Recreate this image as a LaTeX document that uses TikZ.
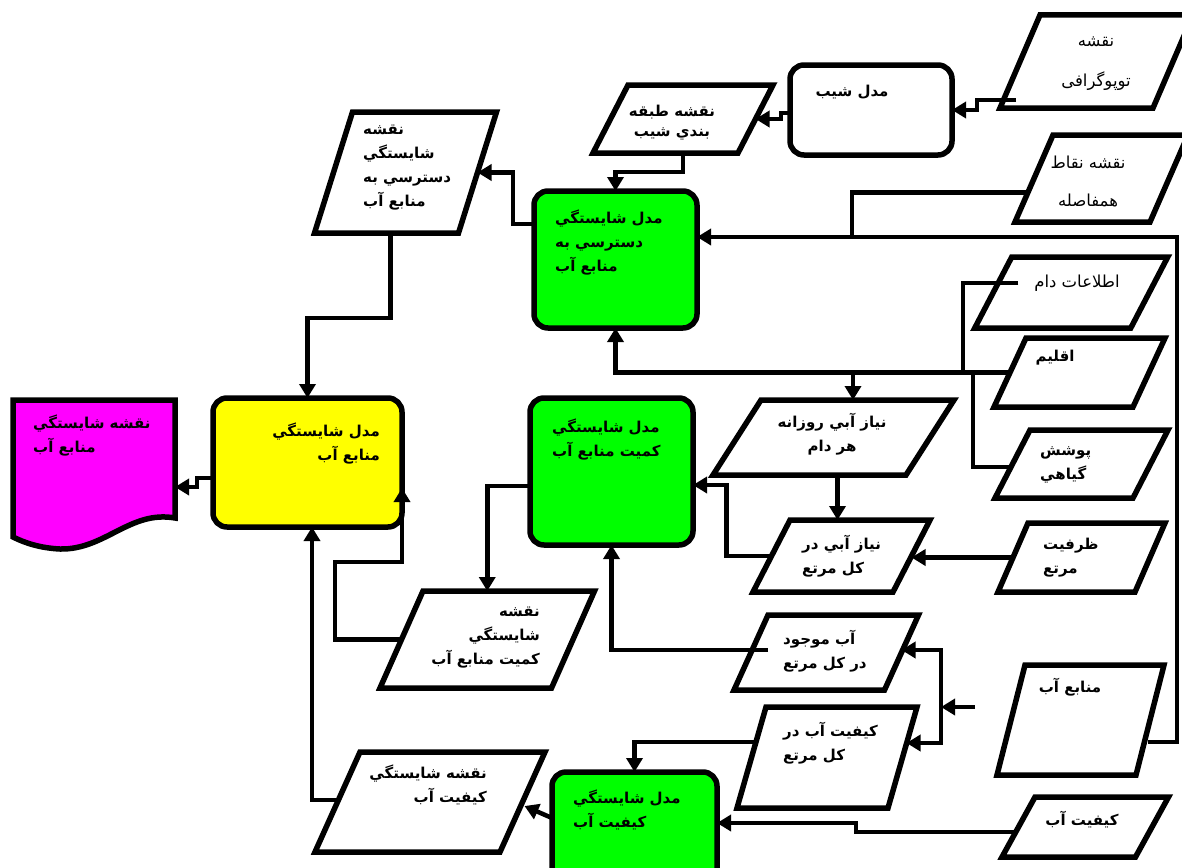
\documentclass[tikz,border=0pt]{standalone}
\usepackage{fontspec}
\usetikzlibrary{arrows.meta, calc}
\newfontfamily\fafont[Script=Arabic]{DejaVu Sans}
\TeXXeTstate=1
\newcommand{\fa}[1]{\beginR #1\endR}
\definecolor{modelgreen}{RGB}{0,255,0}
\definecolor{modelyellow}{RGB}{255,255,0}
\definecolor{mapmagenta}{RGB}{255,0,255}

\begin{document}
\begin{tikzpicture}[x=1pt, y=1pt,
  databox/.style={inner sep=0pt, outer sep=0pt,
    append after command={\pgfextra{\draw[line width=5.5pt, fill=white]
      ([xshift=#1]\tikzlastnode.north west) -- ([xshift=#1]\tikzlastnode.north east)
      -- ([xshift=-#1]\tikzlastnode.south east) -- ([xshift=-#1]\tikzlastnode.south west) -- cycle;}}},
  docbox/.style={inner sep=0pt, outer sep=0pt,
    append after command={\pgfextra{\draw[line width=5.5pt, fill=mapmagenta]
      (\tikzlastnode.north west) -- (\tikzlastnode.north east) -- (\tikzlastnode.south east)
      .. controls ($(\tikzlastnode.south east)+(-45,8)$) and ($(\tikzlastnode.south west)+(92,-32)$) .. ($(\tikzlastnode.south west)+(47,-31)$)
      .. controls ($(\tikzlastnode.south west)+(27,-30)$) and ($(\tikzlastnode.south west)+(12,-25)$) .. ($(\tikzlastnode.south west)+(0,-19)$) -- cycle;}}},
  procbox/.style={draw, line width=5.5pt, rounded corners=14pt, inner sep=0pt, outer sep=0pt},
  flow/.style={line width=4.5pt, -{Triangle[length=14pt, width=16pt]}},
  link/.style={line width=4.5pt},
  tbold/.style={font=\fafont\bfseries\fontsize{15}{24}\selectfont, inner sep=0pt},
  tplain/.style={font=\fafont\fontsize{16.5}{24}\selectfont, inner sep=0pt},
]
\useasboundingbox (0,0) rectangle (1182,-867);
\fill[white] (0,0) rectangle (1182,-867);
\clip (0,0) rectangle (1182,-867);

% inputs and maps
\node[databox=20pt, minimum width=153pt, minimum height=93pt] (topo) at (1096.5,-61.5) {};
\node[databox=17.5pt, minimum width=145pt, minimum height=68pt] (slopemap) at (683,-119) {};
\node[databox=19pt, minimum width=135pt, minimum height=87pt] (isodist) at (1101.5,-178.5) {};
\node[databox=19pt, minimum width=144pt, minimum height=121pt] (accmap) at (405.5,-172.5) {};
\node[databox=18.5pt, minimum width=156pt, minimum height=71pt] (stock) at (1071.25,-292.5) {};
\node[databox=16pt, minimum width=139pt, minimum height=69pt] (climate) at (1079.5,-372.5) {};
\node[databox=17.5pt, minimum width=138pt, minimum height=68pt] (veg) at (1081.5,-464) {};
\node[databox=24pt, minimum width=193pt, minimum height=75pt] (daily) at (833.5,-437.5) {};
\node[databox=18.5pt, minimum width=140pt, minimum height=72pt] (total) at (841.5,-556) {};
\node[databox=15pt, minimum width=137pt, minimum height=69pt] (capacity) at (1081.5,-557.5) {};
\node[databox=21.5pt, minimum width=171.5pt, minimum height=97pt] (qtymap) at (487.25,-639.5) {};
\node[databox=17pt, minimum width=150.5pt, minimum height=75pt] (avail) at (826.25,-652.5) {};
\node[databox=14.5pt, minimum width=151pt, minimum height=101pt] (qualrange) at (827,-757.5) {};
\node[databox=14pt, minimum width=139pt, minimum height=110pt] (wsrc) at (1080.5,-720) {};
\node[databox=16.5pt, minimum width=133.5pt, minimum height=60pt] (qualin) at (1085.25,-827) {};
\node[databox=22.5pt, minimum width=185pt, minimum height=100pt] (qualmap) at (430,-802) {};
\node[docbox, minimum width=162pt, minimum height=118pt] (suitmap) at (94,-459) {};

% models
\node[procbox, fill=white, minimum width=162pt, minimum height=90pt] (slopemodel) at (871,-110) {};
\node[procbox, fill=modelgreen, minimum width=163pt, minimum height=137pt] (accmodel) at (615.5,-259.5) {};
\node[procbox, fill=modelgreen, minimum width=163pt, minimum height=147pt] (qtymodel) at (611.5,-471.5) {};
\node[procbox, fill=modelgreen, minimum width=165pt, minimum height=113pt] (qualmodel) at (634.5,-828.5) {};
\node[procbox, fill=modelyellow, minimum width=189pt, minimum height=129pt] (suitmodel) at (307.5,-462.5) {};

% connectors
\draw[flow] ([shift={(-4,8)}]topo.south west) -- ++(-39,0) |- (slopemodel.east);
\draw[flow] ([yshift=-3]slopemodel.west) -- ++(-9,0) |- (slopemap.east);
\draw[flow] (slopemap.south) -- ++(0,-19) -| (accmodel.north);
\draw[flow] ([yshift=35.5]accmodel.west) -- ++(-21,0) |- (accmap.east);
\draw[flow] ([xshift=-15]accmap.south) -- ++(0,-85) -| (suitmodel.north);
\draw[flow] ([shift={(-2,-22)}]wsrc.east) -- (1177,-742) |- ([yshift=22.5]accmodel.east);
\draw[link] ([shift={(-6,-14)}]isodist.west) -| (852,-237);
\draw[link] ([shift={(25,9.5)}]stock.west) -| (963,0 |- climate.west);
\draw[link] ([yshift=-3]veg.west) -| (973,0 |- climate.west);
\draw[flow] (climate.west) -| (accmodel.south);
\coordinate (dailyin) at ($(daily.north)+(19.5,0)$);
\draw[flow] (dailyin |- climate.west) -- (dailyin);
\draw[flow] ([xshift=4]daily.south) -- ([xshift=-4]total.north);
\draw[flow] (capacity.west) -- (total.east |- capacity.west);
\draw[flow] (total.west) -- ++(-45,0) |- ([yshift=-13.5]qtymodel.east);
\draw[flow] ([yshift=-14.5]qtymodel.west) -| (qtymap.north);
\draw[flow] ([shift={(17,2.5)}]avail.west) -| (qtymodel.south);
\draw[flow] (qtymap.west) -- ++(-66.5,0) -- ++(0,77.5) -| ([yshift=39]suitmodel.south east);
\coordinate (srcstub) at ($(wsrc.west)+(-36,13)$);
\coordinate (split) at (941,-707);
\draw[flow] (srcstub) -- (split);
\draw[flow] (split) |- ([yshift=2.5]avail.east);
\draw[flow] (split) |- ([shift={(4,14.5)}]qualrange.east);
\draw[flow] ([shift={(5,15.5)}]qualrange.west) -| (qualmodel.north);
\draw[flow] ([shift={(-3,-5)}]qualin.west) -- ++(-159.5,0) |- ([yshift=5.5]qualmodel.east);
\draw[flow] ([yshift=10.5]qualmodel.west) -- ([shift={(2,-4)}]qualmap.east);
\draw[flow] ([yshift=2]qualmap.west) -| ([xshift=4.5]suitmodel.south);
\draw[flow] ([yshift=-15.5]suitmodel.west) -- ++(-16,0) |- ([yshift=-28]suitmap.east);

% texts
\node[tplain, align=center] (topot) at (1096,-64) {\fa{نقشه}\\[16pt]\fa{توپوگرافی}};
\node[tbold] (slopemodelt) at (852,-92) {\fa{مدل شیب}};
\node[tbold, align=center] (slopemapt) at (672,-123) {\fa{نقشه طبقه}\\[-4pt]\fa{بندي شیب}};
\node[tplain, align=center] (isodistt) at (1088,-181) {\fa{نقشه نقاط}\\[14pt]\fa{همفاصله}};
\node[tbold, align=left, anchor=west] (accmodelt) at (555,-243) {\fa{مدل شايستگي}\\\fa{دسترسي به}\\\fa{منابع آب}};
\node[tbold, align=left, anchor=west] (accmapt) at (363,-168) {\fa{نقشه}\\\fa{شايستگي}\\\fa{دسترسي به}\\\fa{منابع آب}};
\node[tplain] (stockt) at (1077,-283) {\fa{اطلاعات دام}};
\node[tbold] (climatet) at (1055,-358) {\fa{اقلیم}};
\node[tbold, align=left, anchor=west] (vegt) at (1040,-465) {\fa{پوشش}\\\fa{گياهي}};
\node[tbold, align=center] (dailyt) at (832,-434.5) {\fa{نیاز آبي روزانه}\\\fa{هر دام}};
\node[tbold, align=left, anchor=west] (totalt) at (802,-556.5) {\fa{نیاز آبي در}\\\fa{کل مرتع}};
\node[tbold, align=left, anchor=west] (capacityt) at (1043,-557.5) {\fa{ظرفیت}\\\fa{مرتع}};
\node[tbold, align=left, anchor=west] (qtymodelt) at (552,-439.5) {\fa{مدل شايستگي}\\\fa{کمیت منابع آب}};
\node[tbold, align=right, anchor=east] (suitmodelt) at (380,-443.5) {\fa{مدل شايستگي}\\\fa{منابع آب}};
\node[tbold, align=left, anchor=west] (suitmapt) at (33,-435.5) {\fa{نقشه شايستگي}\\\fa{منابع آب}};
\node[tbold, align=right, anchor=east] (qtymapt) at (540,-638) {\fa{نقشه}\\\fa{شايستگي}\\\fa{کمیت منابع آب}};
\node[tbold, align=left, anchor=west] (availt) at (783,-651.5) {\fa{آب موجود}\\\fa{در کل مرتع}};
\node[tbold, align=left, anchor=west] (qualranget) at (783,-743.5) {\fa{کیفیت آب در}\\\fa{کل مرتع}};
\node[tbold] (wsrct) at (1070,-687) {\fa{منابع آب}};
\node[tbold] (qualint) at (1082,-820) {\fa{کیفیت آب}};
\node[tbold, align=left, anchor=west] (qualmodelt) at (573,-810) {\fa{مدل شايستگي}\\\fa{کیفیت آب}};
\node[tbold, align=right, anchor=east] (qualmapt) at (487,-785) {\fa{نقشه شايستگي}\\\fa{کیفیت آب}};
\end{tikzpicture}
\end{document}
